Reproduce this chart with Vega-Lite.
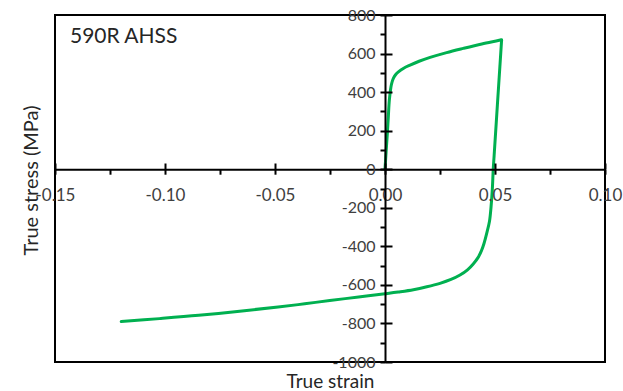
{
  "$schema": "https://vega.github.io/schema/vega-lite/v6.json",
  "width": 550,
  "height": 347,
  "autosize": {"type": "none"},
  "padding": {"left": 55, "top": 15, "right": 18, "bottom": 29},
  "config": {
    "view": {"stroke": "#000000", "strokeWidth": 2},
    "axis": {
      "grid": false,
      "domainColor": "#000000",
      "domainWidth": 2,
      "tickColor": "#000000",
      "tickWidth": 2,
      "labelColor": "#404040",
      "labelFont": "Lato",
      "labelFontSize": 17,
      "titleFont": "Lato",
      "titleFontSize": 20,
      "titleFontWeight": "normal",
      "titleColor": "#262626",
      "labelFlush": false,
      "labelOverlap": false,
      "labelBound": false
    }
  },
  "resolve": {"axis": {"x": "independent", "y": "independent"}},
  "layer": [
    {
      "data": {
        "values": [
          {"i": 1, "strain": 0.0, "stress": 0},
          {"i": 2, "strain": 0.0005, "stress": 90},
          {"i": 3, "strain": 0.00106, "stress": 185},
          {"i": 4, "strain": 0.0015, "stress": 270},
          {"i": 5, "strain": 0.00197, "stress": 358},
          {"i": 6, "strain": 0.0027, "stress": 427},
          {"i": 7, "strain": 0.0032, "stress": 452},
          {"i": 8, "strain": 0.0038, "stress": 471},
          {"i": 9, "strain": 0.0048, "stress": 490},
          {"i": 10, "strain": 0.0061, "stress": 505},
          {"i": 11, "strain": 0.0085, "stress": 524},
          {"i": 12, "strain": 0.0114, "stress": 540},
          {"i": 13, "strain": 0.0155, "stress": 560},
          {"i": 14, "strain": 0.0205, "stress": 580},
          {"i": 15, "strain": 0.028, "stress": 605},
          {"i": 16, "strain": 0.0356, "stress": 627},
          {"i": 17, "strain": 0.044, "stress": 650},
          {"i": 18, "strain": 0.0515, "stress": 668},
          {"i": 19, "strain": 0.0528, "stress": 671.5},
          {"i": 20, "strain": 0.053, "stress": 672},
          {"i": 21, "strain": 0.05294, "stress": 661},
          {"i": 22, "strain": 0.0526, "stress": 600},
          {"i": 23, "strain": 0.0511, "stress": 336},
          {"i": 24, "strain": 0.0496, "stress": 70},
          {"i": 25, "strain": 0.0492, "stress": 0},
          {"i": 26, "strain": 0.0488, "stress": -100},
          {"i": 27, "strain": 0.0482, "stress": -196},
          {"i": 28, "strain": 0.0475, "stress": -270},
          {"i": 29, "strain": 0.0462, "stress": -334},
          {"i": 30, "strain": 0.045, "stress": -385},
          {"i": 31, "strain": 0.0439, "stress": -421},
          {"i": 32, "strain": 0.0422, "stress": -460},
          {"i": 33, "strain": 0.0402, "stress": -490},
          {"i": 34, "strain": 0.0375, "stress": -522},
          {"i": 35, "strain": 0.0341, "stress": -549},
          {"i": 36, "strain": 0.03, "stress": -572},
          {"i": 37, "strain": 0.025, "stress": -592},
          {"i": 38, "strain": 0.019, "stress": -610},
          {"i": 39, "strain": 0.0129, "stress": -625},
          {"i": 40, "strain": 0.006, "stress": -637},
          {"i": 41, "strain": 0.0, "stress": -646},
          {"i": 42, "strain": -0.012, "stress": -663},
          {"i": 43, "strain": -0.0251, "stress": -681},
          {"i": 44, "strain": -0.0365, "stress": -698},
          {"i": 45, "strain": -0.0486, "stress": -715},
          {"i": 46, "strain": -0.065, "stress": -735},
          {"i": 47, "strain": -0.0847, "stress": -758},
          {"i": 48, "strain": -0.1025, "stress": -775},
          {"i": 49, "strain": -0.1199, "stress": -790}
        ]
      },
      "mark": {"type": "line", "color": "#00B050", "strokeWidth": 3, "strokeCap": "round", "strokeJoin": "round", "interpolate": "catmull-rom"},
      "encoding": {
        "order": {"field": "i", "type": "quantitative"},
        "x": {
          "field": "strain",
          "type": "quantitative",
          "scale": {"domain": [-0.15, 0.1], "nice": false, "zero": false},
          "axis": {
            "orient": "bottom",
            "offset": -192.8,
            "values": [-0.15, -0.125, -0.1, -0.075, -0.05, -0.025, 0, 0.025, 0.05, 0.075, 0.1],
            "labelExpr": "abs(round(datum.value*1000)) % 50 == 0 ? replace(format(datum.value, '.2f'), '\u2212', '-') : ''",
            "tickSize": 5,
            "labelPadding": 13,
            "title": "True strain",
            "titleX": 275,
            "titleY": 218,
            "titleFontSize": 19,
            "titleBaseline": "alphabetic",
            "zindex": 1
          }
        },
        "y": {
          "field": "stress",
          "type": "quantitative",
          "scale": {"domain": [-1000, 800], "nice": false, "zero": false},
          "axis": {
            "orient": "left",
            "offset": -330,
            "values": [-1000, -900, -800, -700, -600, -500, -400, -300, -200, -100, 0, 100, 200, 300, 400, 500, 600, 700, 800],
            "labelExpr": "abs(datum.value) % 200 == 0 ? '' + datum.value : ''",
            "labelFontSize": 16,
            "tickSize": 5,
            "labelPadding": 5,
            "title": "True stress (MPa)",
            "titleX": -348,
            "titleY": 165,
            "titleBaseline": "alphabetic",
            "zindex": 1
          }
        }
      }
    },
    {
      "data": {"values": [{"strain": -0.1432, "stress": 656, "label": "590R AHSS"}]},
      "mark": {"type": "text", "align": "left", "baseline": "alphabetic", "font": "Lato", "fontSize": 21, "color": "#262626"},
      "encoding": {
        "text": {"field": "label"},
        "x": {
          "field": "strain",
          "type": "quantitative",
          "scale": {"domain": [-0.15, 0.1], "nice": false, "zero": false},
          "axis": {
            "orient": "top",
            "offset": -154,
            "values": [-0.15, -0.1, -0.05, 0, 0.05, 0.1],
            "domain": false,
            "labels": false,
            "tickSize": 6,
            "title": null,
            "zindex": 1
          }
        },
        "y": {
          "field": "stress",
          "type": "quantitative",
          "scale": {"domain": [-1000, 800], "nice": false, "zero": false},
          "axis": {
            "orient": "right",
            "offset": -220,
            "values": [-1000, -800, -600, -400, -200, 0, 200, 400, 600, 800],
            "domain": false,
            "labels": false,
            "tickSize": 7,
            "title": null,
            "zindex": 1
          }
        }
      }
    }
  ]
}
